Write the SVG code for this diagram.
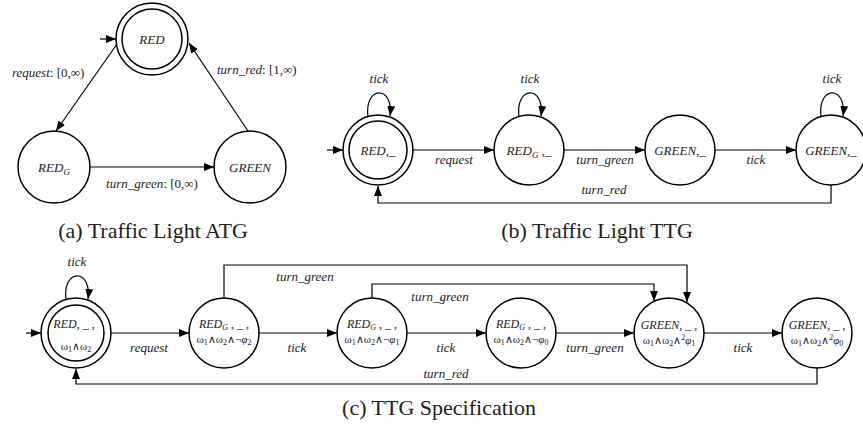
<svg xmlns="http://www.w3.org/2000/svg" width="863" height="430" viewBox="0 0 863 430">
<defs>
<marker id="ah" markerUnits="userSpaceOnUse" markerWidth="10" markerHeight="8" refX="10" refY="4" orient="auto">
<path d="M0,0 L10,4 L0,8 z" fill="#000"/>
</marker>
<style>
.n{fill:#fff;stroke:#000;stroke-width:1.5}
.e{fill:none;stroke:#000;stroke-width:1.2;marker-end:url(#ah)}
.lab{font-size:13px;font-style:italic;text-anchor:middle;fill:#222}
</style>
</defs>
<rect width="863" height="430" fill="#fff"/>

<!-- (a) Traffic Light ATG -->
<g id="a-RED"><circle class="n" cx="152" cy="39" r="36"/><circle class="n" cx="152" cy="39" r="30"/><text font-family="Liberation Serif" class="lab" x="152" y="44">RED</text></g>
<g id="a-REDG"><circle class="n" cx="54" cy="167" r="36"/><text font-family="Liberation Serif" class="lab" x="54" y="172">RED<tspan font-size="9" dy="3">G</tspan></text></g>
<g id="a-GREEN"><circle class="n" cx="250" cy="167" r="36"/><text font-family="Liberation Serif" class="lab" x="250" y="172">GREEN</text></g>

<!-- (b) Traffic Light TTG -->
<g id="b-RED"><circle class="n" cx="378" cy="150" r="35"/><circle class="n" cx="378" cy="150" r="29"/><text font-family="Liberation Serif" class="lab" x="378" y="155">RED,_</text></g>
<g id="b-REDG"><circle class="n" cx="529" cy="150" r="35"/><text font-family="Liberation Serif" class="lab" x="529" y="155">RED<tspan font-size="9" dy="3">G</tspan><tspan dy="-3"> ,_</tspan></text></g>
<g id="b-GREEN1"><circle class="n" cx="680" cy="150" r="35"/><text font-family="Liberation Serif" class="lab" x="680" y="155">GREEN,_</text></g>
<g id="b-GREEN2"><circle class="n" cx="831" cy="150" r="35"/><text font-family="Liberation Serif" class="lab" x="831" y="155">GREEN,_</text></g>

<!-- (c) TTG Specification -->
<g id="c-RED"><circle class="n" cx="76" cy="333" r="35"/><circle class="n" cx="76" cy="333" r="28"/>
<text font-family="Liberation Serif" font-size="12" font-style="italic" text-anchor="middle" fill="#222" x="74" y="328">RED<tspan font-style="normal">, _ ,</tspan></text>
<text font-family="Liberation Serif" font-size="11" text-anchor="middle" fill="#222" x="76" y="350">ω<tspan font-size="8" dy="2">1</tspan><tspan dy="-2">∧ω</tspan><tspan font-size="8" dy="2">2</tspan></text></g>
<g id="c-REDG2"><circle class="n" cx="224" cy="333" r="35"/>
<text font-family="Liberation Serif" font-size="12" font-style="italic" text-anchor="middle" fill="#222" x="224" y="328">RED<tspan font-size="8" dy="2">G</tspan><tspan font-style="normal" dy="-2"> , _ ,</tspan></text>
<text font-family="Liberation Serif" font-size="11" text-anchor="middle" fill="#222" x="224" y="343">ω<tspan font-size="8" dy="2">1</tspan><tspan dy="-2">∧ω</tspan><tspan font-size="8" dy="2">2</tspan><tspan dy="-2">∧¬</tspan><tspan font-style="italic">φ</tspan><tspan font-size="8" dy="2">2</tspan></text></g>
<g id="c-REDG1"><circle class="n" cx="372" cy="333" r="35"/>
<text font-family="Liberation Serif" font-size="12" font-style="italic" text-anchor="middle" fill="#222" x="372" y="328">RED<tspan font-size="8" dy="2">G</tspan><tspan font-style="normal" dy="-2"> , _ ,</tspan></text>
<text font-family="Liberation Serif" font-size="11" text-anchor="middle" fill="#222" x="372" y="343">ω<tspan font-size="8" dy="2">1</tspan><tspan dy="-2">∧ω</tspan><tspan font-size="8" dy="2">2</tspan><tspan dy="-2">∧¬</tspan><tspan font-style="italic">φ</tspan><tspan font-size="8" dy="2">1</tspan></text></g>
<g id="c-REDG0"><circle class="n" cx="521" cy="333" r="35"/>
<text font-family="Liberation Serif" font-size="12" font-style="italic" text-anchor="middle" fill="#222" x="521" y="328">RED<tspan font-size="8" dy="2">G</tspan><tspan font-style="normal" dy="-2"> , _ ,</tspan></text>
<text font-family="Liberation Serif" font-size="11" text-anchor="middle" fill="#222" x="521" y="343">ω<tspan font-size="8" dy="2">1</tspan><tspan dy="-2">∧ω</tspan><tspan font-size="8" dy="2">2</tspan><tspan dy="-2">∧¬</tspan><tspan font-style="italic">φ</tspan><tspan font-size="8" dy="2">0</tspan></text></g>
<g id="c-GREEN1"><circle class="n" cx="669" cy="333" r="35"/>
<text font-family="Liberation Serif" font-size="12" font-style="italic" text-anchor="middle" fill="#222" x="669" y="329">GREEN<tspan font-style="normal">, _ ,</tspan></text>
<text font-family="Liberation Serif" font-size="11" text-anchor="middle" fill="#222" x="669" y="344">ω<tspan font-size="8" dy="2">1</tspan><tspan dy="-2">∧ω</tspan><tspan font-size="8" dy="2">2</tspan><tspan dy="-2">∧</tspan><tspan font-size="8" dy="-4">2</tspan><tspan font-style="italic" dy="4">φ</tspan><tspan font-size="8" dy="2">1</tspan></text></g>
<g id="c-GREEN0"><circle class="n" cx="817" cy="333" r="35"/>
<text font-family="Liberation Serif" font-size="12" font-style="italic" text-anchor="middle" fill="#222" x="817" y="329">GREEN<tspan font-style="normal">, _ ,</tspan></text>
<text font-family="Liberation Serif" font-size="11" text-anchor="middle" fill="#222" x="817" y="344">ω<tspan font-size="8" dy="2">1</tspan><tspan dy="-2">∧ω</tspan><tspan font-size="8" dy="2">2</tspan><tspan dy="-2">∧</tspan><tspan font-size="8" dy="-4">2</tspan><tspan font-style="italic" dy="4">φ</tspan><tspan font-size="8" dy="2">0</tspan></text></g>

<g id="connectors">
<path class="e" d="M100,39 H116"/>
<path class="e" d="M117,44 L56,131"/>
<path class="e" d="M248,131 L189,43"/>
<path class="e" d="M90,167 H214"/>
<path class="e" d="M327,150 H343"/>
<path class="e" d="M368,117 C364,85 394,85 390,116"/>
<path class="e" d="M519,117 C515,85 545,85 541,116"/>
<path class="e" d="M821,117 C817,85 847,85 843,116"/>
<path class="e" d="M413,150 H494"/>
<path class="e" d="M564,150 H645"/>
<path class="e" d="M715,150 H796"/>
<path class="e" d="M831,185 V203 H378 V186"/>
<path class="e" d="M26,333 H41"/>
<path class="e" d="M66,300 C62,268 92,268 88,299"/>
<path class="e" d="M111,333 H189"/>
<path class="e" d="M259,333 H337"/>
<path class="e" d="M407,333 H486"/>
<path class="e" d="M556,333 H634"/>
<path class="e" d="M704,333 H782"/>
<path class="e" d="M224,298 V265 H687 V302"/>
<path class="e" d="M372,298 V284 H654 V301"/>
<path class="e" d="M817,368 V384 H76 V369"/>
</g>

<g id="edge-labels">
<text font-family="Liberation Serif" font-size="13" fill="#222" x="12" y="77"><tspan font-style="italic">request</tspan>: [0,∞)</text>
<text font-family="Liberation Serif" font-size="13" fill="#222" x="217" y="74"><tspan font-style="italic">turn_red</tspan>: [1,∞)</text>
<text font-family="Liberation Serif" font-size="13" fill="#222" x="152" y="188" text-anchor="middle"><tspan font-style="italic">turn_green</tspan>: [0,∞)</text>
<text font-family="Liberation Serif" class="lab" x="379" y="83">tick</text>
<text font-family="Liberation Serif" class="lab" x="530" y="83">tick</text>
<text font-family="Liberation Serif" class="lab" x="832" y="83">tick</text>
<text font-family="Liberation Serif" class="lab" x="454" y="164">request</text>
<text font-family="Liberation Serif" class="lab" x="605" y="164">turn_green</text>
<text font-family="Liberation Serif" class="lab" x="756" y="164">tick</text>
<text font-family="Liberation Serif" class="lab" x="604" y="194">turn_red</text>
<text font-family="Liberation Serif" class="lab" x="77" y="266">tick</text>
<text font-family="Liberation Serif" class="lab" x="149" y="352">request</text>
<text font-family="Liberation Serif" class="lab" x="297" y="352">tick</text>
<text font-family="Liberation Serif" class="lab" x="446" y="352">tick</text>
<text font-family="Liberation Serif" class="lab" x="595" y="352">turn_green</text>
<text font-family="Liberation Serif" class="lab" x="743" y="352">tick</text>
<text font-family="Liberation Serif" class="lab" x="446" y="378">turn_red</text>
<text font-family="Liberation Serif" class="lab" x="305" y="281">turn_green</text>
<text font-family="Liberation Serif" class="lab" x="440" y="301">turn_green</text>
</g>

<g id="captions" fill="#222" font-size="22" text-anchor="middle">
<text font-family="Liberation Serif" x="153" y="238">(a) Traffic Light ATG</text>
<text font-family="Liberation Serif" x="597" y="238">(b) Traffic Light TTG</text>
<text font-family="Liberation Serif" x="439" y="415">(c) TTG Specification</text>
</g>
</svg>
